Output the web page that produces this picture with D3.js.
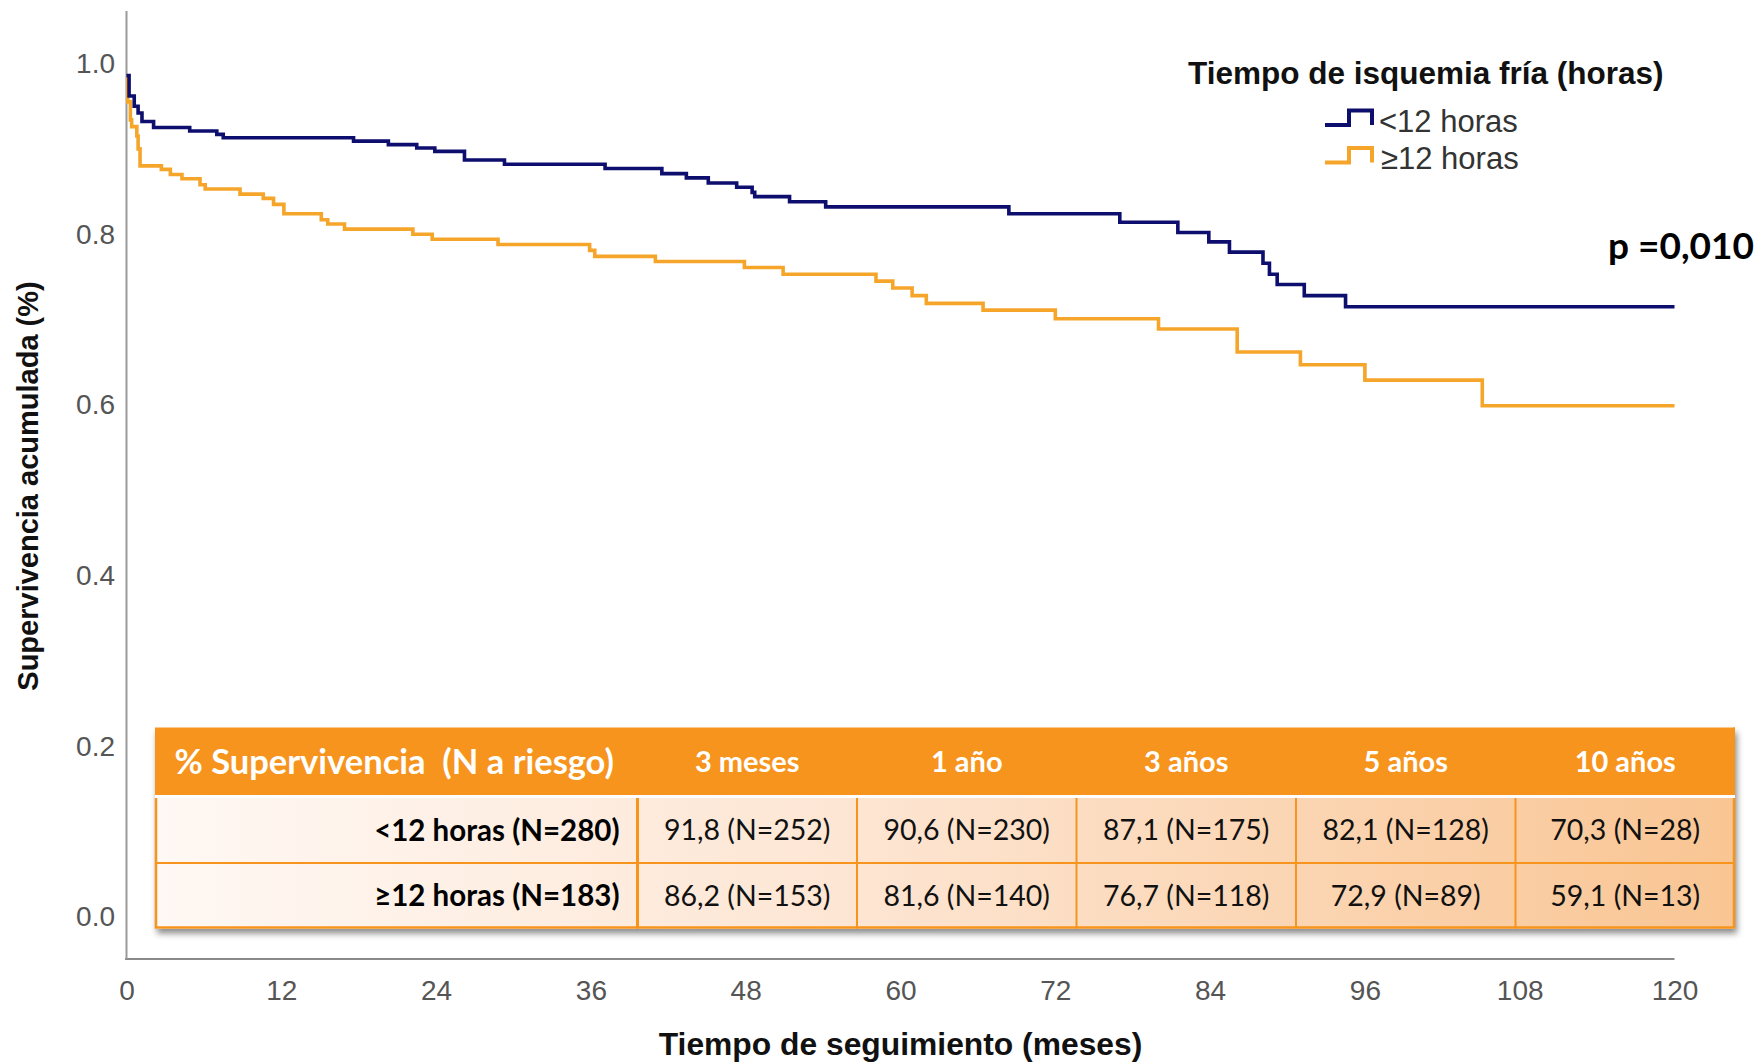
<!DOCTYPE html>
<html><head><meta charset="utf-8">
<script src="https://cdn.jsdelivr.net/npm/d3@7"></script>
<style>
html,body{margin:0;padding:0;background:#fff;}
svg{display:block;}
</style></head><body>
<svg id="chart" width="1761" height="1064"></svg>
<script>
// ---------------- DATA ----------------
const xTickValues = [0, 12, 24, 36, 48, 60, 72, 84, 96, 108, 120];
const yTickValues = [0, 0.2, 0.4, 0.6, 0.8, 1.0];
const yTickLabels = ["0.0", "0.2", "0.4", "0.6", "0.8", "1.0"];
const seriesNames = ["<12 horas", "\u226512 horas"];

// Kaplan-Meier steps, group <12 horas (months, cumulative survival)
const lowTimes = [0, 0.2, 0.6, 0.9, 1.2, 2.1, 4.9, 7.0, 7.5, 17.6, 20.3, 22.5, 23.9, 26.2, 29.3, 37.1, 41.5, 43.4, 45.1, 47.3, 48.5, 48.7, 51.4, 54.2, 68.4, 77.0, 81.5, 83.9, 85.5, 88.1, 88.6, 89.2, 91.3, 94.5, 120];
const lowSurv  = [0.986, 0.962, 0.950, 0.942, 0.932, 0.925, 0.921, 0.917, 0.913, 0.909, 0.905, 0.901, 0.897, 0.887, 0.882, 0.877, 0.871, 0.866, 0.860, 0.855, 0.849, 0.844, 0.838, 0.832, 0.824, 0.814, 0.802, 0.791, 0.779, 0.766, 0.753, 0.741, 0.728, 0.715, 0.715];

// Kaplan-Meier steps, group >=12 horas
const highTimes = [0, 0.1, 0.3, 0.4, 0.8, 0.9, 1.05, 2.7, 3.4, 4.3, 5.7, 6.1, 8.8, 10.6, 11.4, 12.2, 15.1, 15.6, 16.9, 22.2, 23.7, 28.8, 35.9, 36.3, 41.0, 47.9, 50.9, 58.1, 59.4, 60.9, 62.0, 66.4, 72.0, 80.0, 86.1, 91.0, 96.0, 105.1, 120];
const highSurv  = [0.983, 0.955, 0.934, 0.926, 0.915, 0.900, 0.880, 0.876, 0.870, 0.865, 0.858, 0.853, 0.847, 0.842, 0.835, 0.824, 0.817, 0.812, 0.806, 0.800, 0.794, 0.788, 0.781, 0.774, 0.768, 0.761, 0.753, 0.745, 0.737, 0.728, 0.719, 0.711, 0.701, 0.689, 0.662, 0.647, 0.629, 0.599, 0.599];

const tableTitle = "% Supervivencia  (N a riesgo)";
const timepoints = ["3 meses", "1 a\u00f1o", "3 a\u00f1os", "5 a\u00f1os", "10 a\u00f1os"];
const groupRowLabels = ["<12 horas (N=280)", "\u226512 horas (N=183)"];
const lowPct  = [91.8, 90.6, 87.1, 82.1, 70.3];
const lowN    = [252, 230, 175, 128, 28];
const highPct = [86.2, 81.6, 76.7, 72.9, 59.1];
const highN   = [153, 140, 118, 89, 13];

const pValueText = "p =0,010";
const xTitle = "Tiempo de seguimiento (meses)";
const yTitle = "Supervivencia acumulada (%)";
const legendTitle = "Tiempo de isquemia fr\u00eda (horas)";

// ---------------- CHART ----------------
const NAVY = "#0e0e6e", ORANGE = "#f6a52b", TBL = "#f7941d";
const SANS = "'Liberation Sans', Arial, sans-serif";
const CAL = "Lato, 'Open Sans', sans-serif";

const svg = d3.select("#chart");
const defs = svg.append("defs");
const grad = defs.append("linearGradient").attr("id", "bodyGrad")
  .attr("x1", "0").attr("x2", "1").attr("y1", "0").attr("y2", "0");
grad.append("stop").attr("offset", "0").attr("stop-color", "#fff8f4");
grad.append("stop").attr("offset", "0.45").attr("stop-color", "#fde5d2");
grad.append("stop").attr("offset", "1").attr("stop-color", "#f9c593");
const filt = defs.append("filter").attr("id", "shadow")
  .attr("x", "-5%").attr("y", "-10%").attr("width", "110%").attr("height", "130%");
filt.append("feDropShadow").attr("dx", 2).attr("dy", 5).attr("stdDeviation", 3)
  .attr("flood-color", "#000").attr("flood-opacity", 0.45);

const x = d3.scaleLinear().domain([0, 120]).range([126.5, 1674.5]);
const y = d3.scaleLinear().domain([0, 1]).range([917, 63.5]);
const axisY = 959;

// axis lines
svg.append("line").attr("x1", x(0) - 1.5).attr("x2", x(120)).attr("y1", axisY).attr("y2", axisY)
  .attr("stroke", "#8a8a8a").attr("stroke-width", 2);
svg.append("line").attr("x1", x(0)).attr("x2", x(0)).attr("y1", 11).attr("y2", axisY)
  .attr("stroke", "#9a9a9a").attr("stroke-width", 2);

// x tick labels
const gx = svg.append("g").attr("transform", `translate(0,${axisY})`)
  .call(d3.axisBottom(x).tickValues(xTickValues).tickSize(0).tickFormat(d3.format("d")));
gx.select(".domain").remove();
gx.selectAll("text").attr("y", 31).attr("dy", "0.35em")
  .attr("font-family", SANS).attr("font-size", 28).attr("fill", "#555");

// y tick labels
const gy = svg.append("g").attr("transform", `translate(${x(0)},0)`)
  .call(d3.axisLeft(y).tickValues(yTickValues).tickSize(0).tickPadding(11.5)
    .tickFormat((d, i) => yTickLabels[i]));
gy.select(".domain").remove();
gy.selectAll("text").attr("font-family", SANS).attr("font-size", 28).attr("fill", "#555");

// axis titles
svg.append("text").attr("transform", "translate(28,486) rotate(-90)")
  .attr("text-anchor", "middle").attr("dy", "0.35em")
  .attr("font-family", SANS).attr("font-weight", "bold").attr("font-size", 29).attr("fill", "#111")
  .text(yTitle);
svg.append("text").attr("x", 900.5).attr("y", 1044).attr("dy", "0.35em")
  .attr("text-anchor", "middle")
  .attr("font-family", SANS).attr("font-weight", "bold").attr("font-size", 31.8).attr("fill", "#111")
  .text(xTitle);

// KM curves
const line = d3.line().x(d => x(d.t)).y(d => y(d.s)).curve(d3.curveStepAfter);
const series = [
  { name: seriesNames[1], color: ORANGE, pts: highTimes.map((t, i) => ({ t, s: highSurv[i] })) },
  { name: seriesNames[0], color: NAVY, pts: lowTimes.map((t, i) => ({ t, s: lowSurv[i] })) }
];
svg.selectAll("path.km").data(series).join("path").attr("class", "km")
  .attr("d", d => line(d.pts)).attr("fill", "none")
  .attr("stroke", d => d.color).attr("stroke-width", 3.6).attr("stroke-linejoin", "miter");

// legend
svg.append("text").attr("x", 1188).attr("y", 73).attr("dy", "0.35em")
  .attr("font-family", SANS).attr("font-weight", "bold").attr("font-size", 31.5).attr("fill", "#111")
  .text(legendTitle);
const legendColors = [NAVY, ORANGE];
const lg = svg.selectAll("g.leg").data(seriesNames).join("g").attr("class", "leg")
  .attr("transform", (d, i) => `translate(0,${i * 37.5})`);
lg.append("path").attr("d", "M1325,125 H1349 V110.5 H1372 V125")
  .attr("fill", "none").attr("stroke", (d, i) => legendColors[i]).attr("stroke-width", 4);
lg.append("text").attr("x", (d, i) => i === 0 ? 1379 : 1381).attr("y", 121).attr("dy", "0.35em")
  .attr("font-family", SANS).attr("font-size", 31).attr("fill", "#333")
  .text(d => d);

// p value
svg.append("text").attr("x", 1608).attr("y", 259)
  .attr("font-family", CAL).attr("font-weight", "bold").attr("font-size", 37).attr("fill", "#000")
  .text(pValueText);

// ---------------- TABLE ----------------
const T = { left: 155, right: 1735, top: 727.5, headBottom: 795, bodyTop: 798, rowSep: 863, bottom: 928.5, col1: 637.5 };
const col = d3.scaleBand().domain(timepoints).range([T.col1, T.right]);
const rowCenters = [(T.bodyTop + T.rowSep) / 2, (T.rowSep + T.bottom) / 2];
const tg = svg.append("g");
const tbg = tg.append("g").attr("filter", "url(#shadow)");
tbg.append("rect").attr("x", T.left).attr("y", T.top).attr("width", T.right - T.left)
  .attr("height", T.bottom - T.top).attr("fill", "#fff");
tg.append("rect").attr("x", T.left).attr("y", T.top).attr("width", T.right - T.left)
  .attr("height", T.headBottom - T.top).attr("fill", TBL);
tg.append("rect").attr("x", T.left).attr("y", T.bodyTop).attr("width", T.right - T.left)
  .attr("height", T.bottom - T.bodyTop).attr("fill", "url(#bodyGrad)");
// borders
tg.append("line").attr("x1", T.left).attr("x2", T.right).attr("y1", T.rowSep).attr("y2", T.rowSep)
  .attr("stroke", TBL).attr("stroke-width", 2);
tg.selectAll("line.vcol").data(timepoints).join("line").attr("class", "vcol")
  .attr("x1", d => col(d)).attr("x2", d => col(d)).attr("y1", T.bodyTop).attr("y2", T.bottom)
  .attr("stroke", TBL).attr("stroke-width", (d, i) => i === 0 ? 3 : 2);
tg.append("path")
  .attr("d", `M${T.left + 1},${T.bodyTop} V${T.bottom - 1} H${T.right - 1} V${T.bodyTop}`)
  .attr("fill", "none").attr("stroke", TBL).attr("stroke-width", 2.5);
tg.append("line").attr("x1", T.right - 1).attr("x2", T.right - 1).attr("y1", T.top).attr("y2", T.headBottom)
  .attr("stroke", TBL).attr("stroke-width", 2);

// header text
tg.append("text").attr("x", 174.5).attr("y", (T.top + T.headBottom) / 2 + 1).attr("dy", "0.35em")
  .attr("xml:space", "preserve").style("white-space", "pre")
  .attr("font-family", CAL).attr("font-weight", "bold").attr("font-size", 34.5).attr("fill", "#fff")
  .text(tableTitle);
tg.selectAll("text.colh").data(timepoints).join("text").attr("class", "colh")
  .attr("x", d => col(d) + col.bandwidth() / 2).attr("y", (T.top + T.headBottom) / 2 + 1).attr("dy", "0.35em")
  .attr("text-anchor", "middle")
  .attr("font-family", CAL).attr("font-weight", "bold").attr("font-size", 29).attr("fill", "#fff")
  .text(d => d);

// row labels
tg.selectAll("text.rowl").data(groupRowLabels).join("text").attr("class", "rowl")
  .attr("x", 619.5).attr("y", (d, i) => rowCenters[i]).attr("dy", "0.35em")
  .attr("text-anchor", "end")
  .attr("font-family", CAL).attr("font-weight", "bold").attr("font-size", 29.5).attr("fill", "#000")
  .text(d => d);

// cells
const fmt = (p, n) => p.toFixed(1).replace(".", ",") + " (N=" + n + ")";
const cells = [];
timepoints.forEach((tp, j) => {
  cells.push({ tp, r: 0, text: fmt(lowPct[j], lowN[j]) });
  cells.push({ tp, r: 1, text: fmt(highPct[j], highN[j]) });
});
tg.selectAll("text.cell").data(cells).join("text").attr("class", "cell")
  .attr("x", d => col(d.tp) + col.bandwidth() / 2).attr("y", d => rowCenters[d.r]).attr("dy", "0.35em")
  .attr("text-anchor", "middle")
  .attr("font-family", CAL).attr("font-size", 28.5).attr("fill", "#111")
  .text(d => d.text);
</script>
</body></html>
